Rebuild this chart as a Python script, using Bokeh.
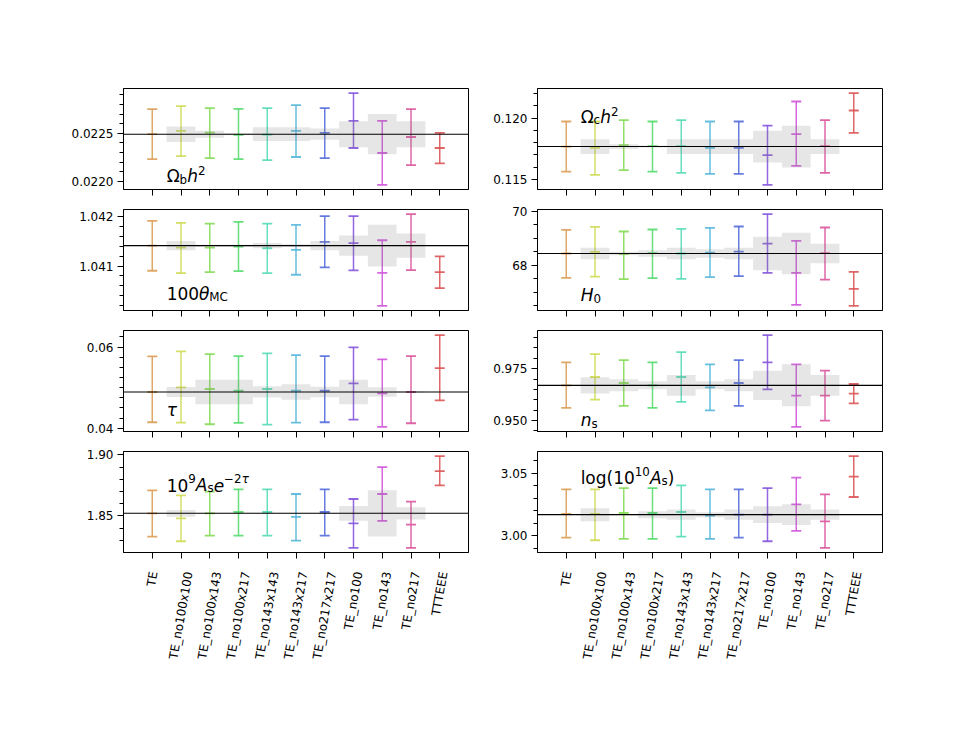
import colorsys
import math
from bokeh.plotting import figure
from bokeh.layouts import column, row
from bokeh.models import Range1d, FixedTicker, Span, Label
from bokeh.core.properties import value
from bokeh.embed import file_html
from bokeh.resources import INLINE

# ---------------- data ----------------
categories = ["TE", "TE_no100x100", "TE_no100x143", "TE_no100x217", "TE_no143x143",
              "TE_no143x217", "TE_no217x217", "TE_no100", "TE_no143", "TE_no217", "TTTEEE"]
box_categories = categories[1:10]

ombh2_ref = 0.02249
ombh2_hi = [0.022752, 0.022783, 0.022762, 0.022755, 0.022762, 0.022794, 0.022762, 0.022919, 0.022629, 0.022752, 0.022503]
ombh2_mid = [0.022490, 0.022524, 0.022506, 0.022482, 0.022486, 0.022524, 0.022503, 0.022629, 0.022294, 0.022461, 0.022346]
ombh2_lo = [0.022230, 0.022262, 0.022241, 0.022231, 0.022220, 0.022252, 0.022241, 0.022346, 0.021961, 0.022168, 0.022186]
ombh2_box = [8.0e-5, 3.7e-5, 1.0e-5, 7.2e-5, 7.2e-5, 5.9e-5, 13.6e-5, 21.0e-5, 13.6e-5]
ombh2_ticks = [0.0220, 0.0225]
ombh2_tick_labels = ["0.0220", "0.0225"]
ombh2_minor = 0.0001

omch2_ref = 0.117684
omch2_hi = [0.119723, 0.119723, 0.119837, 0.119723, 0.119837, 0.119723, 0.119723, 0.119396, 0.121354, 0.119837, 0.122039]
omch2_mid = [0.117684, 0.117578, 0.117798, 0.117711, 0.117711, 0.117578, 0.117578, 0.116982, 0.118695, 0.117711, 0.120620]
omch2_lo = [0.115645, 0.115376, 0.115759, 0.115645, 0.115539, 0.115457, 0.115457, 0.114560, 0.116110, 0.115539, 0.118801]
omch2_box = [0.000598, 0.00019, 0.00008, 0.000598, 0.000598, 0.000598, 0.00129, 0.0017, 0.000598]
omch2_ticks = [0.115, 0.120]
omch2_tick_labels = ["0.115", "0.120"]
omch2_minor = 0.001

theta_ref = 1.041412
theta_hi = [1.041913, 1.041872, 1.041858, 1.041893, 1.041858, 1.041832, 1.042008, 1.042008, 1.041521, 1.042049, 1.041197]
theta_mid = [1.041412, 1.041371, 1.041371, 1.041392, 1.041359, 1.041325, 1.041487, 1.041461, 1.040864, 1.041487, 1.040879]
theta_lo = [1.040905, 1.040858, 1.040879, 1.040899, 1.040858, 1.040824, 1.040974, 1.040913, 1.040195, 1.040919, 1.040554]
theta_box = [9.5e-5, 2e-5, 2e-5, 5.4e-5, 3e-5, 9.5e-5, 2.06e-4, 4.2e-4, 2.47e-4]
theta_ticks = [1.041, 1.042]
theta_tick_labels = ["1.041", "1.042"]
theta_minor = 0.0002

H0_ref = 68.434
H0_hi = [69.317, 69.429, 69.254, 69.328, 69.355, 69.392, 69.440, 69.903, 68.907, 69.403, 67.750]
H0_mid = [68.434, 68.496, 68.410, 68.448, 68.434, 68.470, 68.508, 68.806, 67.713, 68.448, 67.116]
H0_lo = [67.526, 67.575, 67.478, 67.515, 67.489, 67.552, 67.590, 67.713, 66.519, 67.463, 66.482]
H0_box = [0.218, 0.068, 0.118, 0.218, 0.155, 0.218, 0.628, 0.777, 0.361]
H0_ticks = [68, 70]
H0_tick_labels = ["68", "70"]
H0_minor = 0.5

tau_ref = 0.048934
tau_hi = [0.057705, 0.058935, 0.058279, 0.057787, 0.058443, 0.058033, 0.057787, 0.059918, 0.056970, 0.057787, 0.062951]
tau_mid = [0.048934, 0.050082, 0.049672, 0.049262, 0.049672, 0.049262, 0.049262, 0.051066, 0.048607, 0.048934, 0.054836]
tau_lo = [0.041478, 0.041396, 0.040986, 0.041314, 0.040903, 0.041396, 0.041478, 0.042131, 0.040328, 0.041231, 0.046886]
tau_box = [0.00123, 0.00303, 0.00303, 0.00139, 0.00189, 0.00131, 0.00303, 0.00115, 0.0002]
tau_ticks = [0.04, 0.06]
tau_tick_labels = ["0.04", "0.06"]
tau_minor = 0.0025

ns_ref = 0.966987
ns_hi = [0.978045, 0.982051, 0.979167, 0.978045, 0.983013, 0.977083, 0.979167, 0.991186, 0.977083, 0.974038, 0.967628]
ns_mid = [0.966987, 0.970994, 0.968109, 0.966987, 0.970994, 0.966026, 0.968109, 0.978045, 0.962019, 0.962019, 0.962981]
ns_lo = [0.956089, 0.960096, 0.957051, 0.956089, 0.958974, 0.954968, 0.957051, 0.965064, 0.946955, 0.950000, 0.958333]
ns_box = [0.003926, 0.002885, 0.001923, 0.004968, 0.001923, 0.002885, 0.007051, 0.010096, 0.004968]
ns_ticks = [0.950, 0.975]
ns_tick_labels = ["0.950", "0.975"]
ns_minor = 0.005

Ase_ref = 1.85218
Ase_hi = [1.870928, 1.866853, 1.869841, 1.871743, 1.871743, 1.867940, 1.871743, 1.863864, 1.889947, 1.861690, 1.898913]
Ase_mid = [1.852180, 1.848105, 1.852180, 1.853267, 1.853267, 1.849190, 1.853267, 1.844030, 1.867940, 1.842943, 1.886687]
Ase_lo = [1.833162, 1.829358, 1.833977, 1.833977, 1.833977, 1.829899, 1.833977, 1.823924, 1.845932, 1.823924, 1.875004]
Ase_box = [0.002717, 0.0003, 0.0003, 0.0003, 0.0003, 0.0003, 0.005977, 0.018883, 0.005026]
Ase_ticks = [1.85, 1.90]
Ase_tick_labels = ["1.85", "1.90"]
Ase_minor = 0.01

logA_ref = 3.016931
logA_hi = [3.037037, 3.037037, 3.038095, 3.038095, 3.040212, 3.037037, 3.037037, 3.038095, 3.046296, 3.033069, 3.063492]
logA_mid = [3.017460, 3.017460, 3.018254, 3.018254, 3.019048, 3.016138, 3.016931, 3.016931, 3.025132, 3.011640, 3.047090]
logA_lo = [2.998677, 2.996561, 2.997619, 2.997619, 2.999471, 2.997619, 2.998677, 2.995767, 3.003968, 2.990476, 3.030952]
logA_box = [0.005159, 0.0004, 0.002778, 0.0041, 0.00198, 0.0041, 0.006746, 0.008201, 0.0041]
logA_ticks = [3.00, 3.05]
logA_tick_labels = ["3.00", "3.05"]
logA_minor = 0.01

# ---------------- styling ----------------
FONT = "DejaVu Sans"
LF = 17.0   # panel label font size (px)
TF = 12.0   # tick label font size (px)
W = {'Ω': 0.764, 'b': 0.635, 'h': 0.634, '2': 0.636, 'c': 0.550, '1': 0.636, '0': 0.636,
     '9': 0.636, 'θ': 0.602, 'M': 0.863, 'C': 0.698, 'H': 0.752, 'τ': 0.550, 'n': 0.634,
     's': 0.521, 'A': 0.684, 'e': 0.615, '−': 0.838, 'l': 0.278, 'o': 0.612, 'g': 0.635,
     '(': 0.390, ')': 0.390, 'T': 0.611, 'E': 0.632, '_': 0.500, 'x': 0.592, '3': 0.636,
     '4': 0.636, '7': 0.636}
SUP = 0.33
SUB = -0.19
ROT = math.radians(80)

colors = []
for i in range(len(categories)):
    r, g, b = colorsys.hls_to_rgb(((i + 1) / 11.0) % 1.0, 0.6, 0.65)
    colors.append("#%02x%02x%02x" % (int(r * 255), int(g * 255), int(b * 255)))

# label parts: (text, italic, scale, baseline shift in em)
panels = [
    dict(ref=ombh2_ref, hi=ombh2_hi, mid=ombh2_mid, lo=ombh2_lo, box=ombh2_box, ticks=ombh2_ticks,
         tl=ombh2_tick_labels, minor=ombh2_minor, fy=0.13,
         parts=[("Ω", False, 1, 0), ("b", False, 0.7, SUB), ("h", True, 1, 0), ("2", False, 0.7, SUP)]),
    dict(ref=omch2_ref, hi=omch2_hi, mid=omch2_mid, lo=omch2_lo, box=omch2_box, ticks=omch2_ticks,
         tl=omch2_tick_labels, minor=omch2_minor, fy=0.718,
         parts=[("Ω", False, 1, 0), ("c", False, 0.7, SUB), ("h", True, 1, 0), ("2", False, 0.7, SUP)]),
    dict(ref=theta_ref, hi=theta_hi, mid=theta_mid, lo=theta_lo, box=theta_box, ticks=theta_ticks,
         tl=theta_tick_labels, minor=theta_minor, fy=0.165,
         parts=[("100", False, 1, 0), ("θ", True, 1, 0), ("MC", False, 0.7, -0.16)]),
    dict(ref=H0_ref, hi=H0_hi, mid=H0_mid, lo=H0_lo, box=H0_box, ticks=H0_ticks,
         tl=H0_tick_labels, minor=H0_minor, fy=0.155,
         parts=[("H", True, 1, 0), ("0", False, 0.7, SUB)]),
    dict(ref=tau_ref, hi=tau_hi, mid=tau_mid, lo=tau_lo, box=tau_box, ticks=tau_ticks,
         tl=tau_tick_labels, minor=tau_minor, fy=0.21,
         parts=[("τ", True, 1, 0)]),
    dict(ref=ns_ref, hi=ns_hi, mid=ns_mid, lo=ns_lo, box=ns_box, ticks=ns_ticks,
         tl=ns_tick_labels, minor=ns_minor, fy=0.11,
         parts=[("n", True, 1, 0), ("s", False, 0.7, SUB)]),
    dict(ref=Ase_ref, hi=Ase_hi, mid=Ase_mid, lo=Ase_lo, box=Ase_box, ticks=Ase_ticks,
         tl=Ase_tick_labels, minor=Ase_minor, fy=0.666,
         parts=[("10", False, 1, 0), ("9", False, 0.7, 0.37), ("A", True, 1, 0), ("s", False, 0.7, SUB),
                ("e", True, 1, 0), ("−2", False, 0.7, 0.37), ("τ", True, 0.7, 0.37)]),
    dict(ref=logA_ref, hi=logA_hi, mid=logA_mid, lo=logA_lo, box=logA_box, ticks=logA_ticks,
         tl=logA_tick_labels, minor=logA_minor, fy=0.735,
         parts=[("log(10", False, 1, 0), ("10", False, 0.7, 0.37), ("A", True, 1, 0),
                ("s", False, 0.7, SUB), (")", False, 1, 0)]),
]

FRAME_W, FRAME_H = 345, 101
LABEL_H = 112      # height of the strip holding the category names
GAP = 10           # pixels between panel frame bottom and label strip


def borders(col):
    return (123, 10) if col == 0 else (59, 15)


def text_width(s, size):
    return sum(W.get(c, 0.6) for c in s) * size


def add_math_label(p, x, y, parts):
    off = 0.0
    for text, italic, scale, dy in parts:
        size = LF * scale
        p.add_layout(Label(x=x, y=y, x_offset=off, y_offset=dy * LF, text=text,
                           text_font=FONT, text_font_size="%.1fpx" % size,
                           text_font_style="italic" if italic else "normal",
                           text_color="black", text_baseline="alphabetic", text_align="left"))
        off += text_width(text, size)


def make_panel(spec, col, rowi):
    x = list(range(len(categories)))
    xb = list(range(1, 10))
    ref = spec['ref']
    btop = [ref + h for h in spec['box']]
    bbot = [ref - h for h in spec['box']]
    dmin = min(min(spec['lo']), min(bbot))
    dmax = max(max(spec['hi']), max(btop))
    pad = 0.05 * (dmax - dmin)
    ylo, yhi = dmin - pad, dmax + pad

    left, right = borders(col)
    top = 88 if rowi == 0 else 10
    bottom = GAP

    p = figure(width=left + FRAME_W + right, height=top + FRAME_H + bottom,
               x_range=Range1d(-1, 11), y_range=Range1d(ylo, yhi),
               output_backend="svg", toolbar_location=None, tools="", title=None,
               min_border_left=left, min_border_right=right,
               min_border_top=top, min_border_bottom=bottom)
    p.outline_line_color = "black"
    p.outline_line_alpha = 1.0
    p.outline_line_width = 1
    p.xgrid.visible = False
    p.ygrid.visible = False

    # error bars
    p.segment(x0=x, y0=spec['lo'], x1=x, y1=spec['hi'], line_color=colors, line_width=1.5, line_alpha=0.9)
    for arr in (spec['hi'], spec['mid'], spec['lo']):
        p.scatter(x=x, y=arr, marker="dash", size=10, line_color=colors, line_width=1.8, line_alpha=0.9)

    # expected-shift boxes
    p.quad(left=[v - 0.5 for v in xb], right=[v + 0.5 for v in xb], bottom=bbot, top=btop,
           fill_color="gray", fill_alpha=0.2, line_color=None)

    p.add_layout(Span(location=ref, dimension="width", line_color="black", line_width=1.1))

    # y axis
    k0 = math.ceil(ylo / spec['minor'] - 1e-9)
    k1 = math.floor(yhi / spec['minor'] + 1e-9)
    minor = [round(k * spec['minor'], 10) for k in range(k0, k1 + 1)]
    p.yaxis.ticker = FixedTicker(ticks=spec['ticks'], minor_ticks=minor)
    p.yaxis.major_label_overrides = {t: l for t, l in zip(spec['ticks'], spec['tl'])}
    for ax in (p.yaxis, p.xaxis):
        ax.axis_line_color = "black"
        ax.major_tick_line_color = "black"
        ax.minor_tick_line_color = "black"
        ax.major_tick_in = 0
        ax.major_tick_out = 6
        ax.minor_tick_in = 0
        ax.minor_tick_out = 4
        ax.major_label_text_font = FONT
        ax.major_label_text_font_size = "%dpx" % TF
        ax.major_label_text_color = "black"
    p.yaxis.major_label_standoff = 4

    # x axis: tick marks only (names are drawn in the strip below the bottom row)
    p.xaxis.ticker = FixedTicker(ticks=x, minor_ticks=[])
    p.xaxis.major_label_overrides = {i: "" for i in x}
    p.xaxis.major_label_text_font_size = "0px"
    p.xaxis.major_label_standoff = 0

    add_math_label(p, 0.5, ylo + spec['fy'] * (yhi - ylo), spec['parts'])
    return p


def make_label_strip(col):
    left, right = borders(col)
    s = figure(width=left + FRAME_W + right, height=LABEL_H,
               x_range=Range1d(-1, 11), y_range=Range1d(0, LABEL_H),
               output_backend="svg", toolbar_location=None, tools="", title=None,
               min_border_left=left, min_border_right=right, min_border_top=0, min_border_bottom=0)
    s.axis.visible = False
    s.xgrid.visible = False
    s.ygrid.visible = False
    s.outline_line_color = None
    xs, ys = [], []
    for i, name in enumerate(categories):
        L = text_width(name, TF)
        drop = 18 + (L * math.sin(ROT) + 1.16 * TF * math.cos(ROT)) / 2.0
        xs.append(i)
        ys.append(LABEL_H - (drop - GAP))
    s.text(x=xs, y=ys, text=categories, angle=ROT, text_align="center", text_baseline="middle",
           text_font=value(FONT), text_font_size=value("%dpx" % TF), text_color="black")
    return s


rows = []
for r in range(4):
    figs = [make_panel(panels[2 * r + c], c, r) for c in range(2)]
    rows.append(row(*figs))
rows.append(row(make_label_strip(0), make_label_strip(1)))
layout = column(*rows)

open("out.html", "w").write(file_html(layout, INLINE))
